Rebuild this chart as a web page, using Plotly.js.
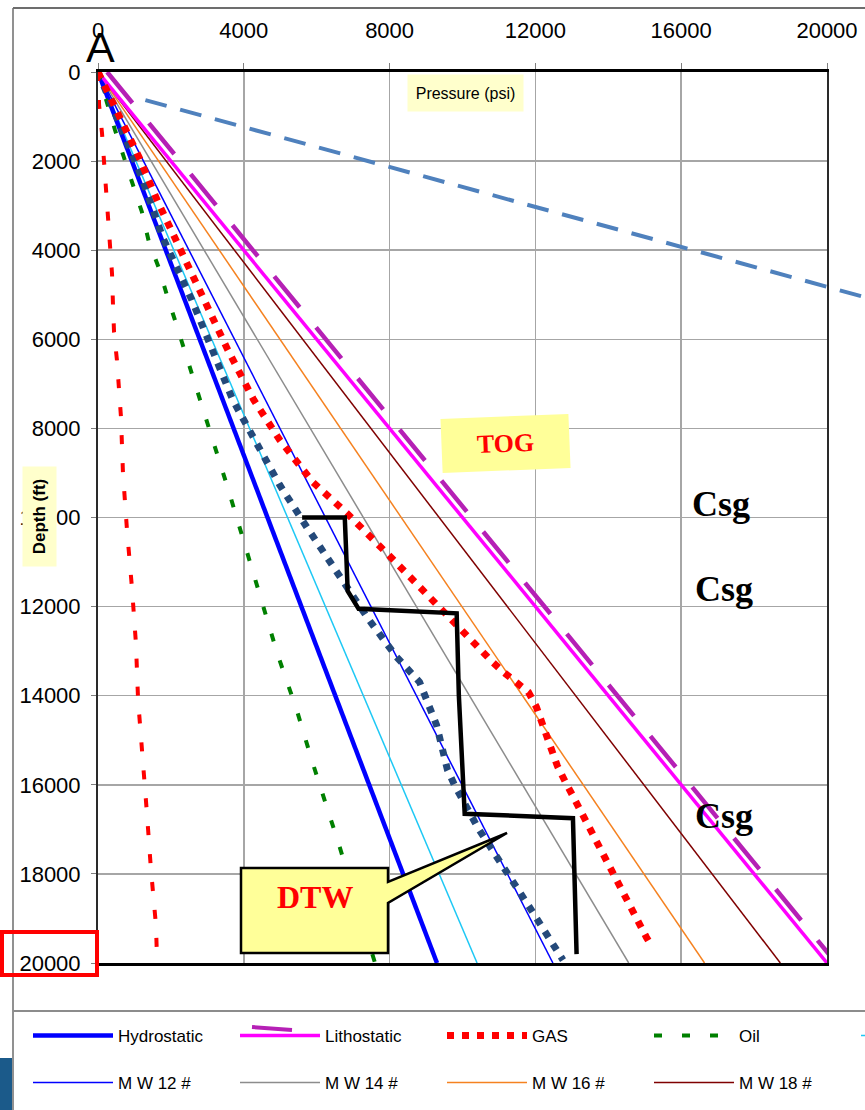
<!DOCTYPE html>
<html>
<head>
<meta charset="utf-8">
<script src="https://cdn.plot.ly/plotly-3.0.1.min.js"></script>
<style>
html,body{margin:0;padding:0;overflow:hidden;background:#ffffff;width:865px;height:1110px;}
#chart{width:1300px;height:1110px;}
</style>
</head>
<body>
<div id="chart"></div>
<script>
// ---------------- DATA ----------------
// Straight gradient lines: pressure (psi) at depth 0 and 20000 ft
const lineDepth = [0, 20000];
const hydrostaticP = [0, 9300];
const lithostaticP = [0, 20000];
const lithostaticOffsetP = [250, 20250];
const mw10P = [0, 10400];
const mw12P = [0, 12480];
const mw14P = [0, 14560];
const mw16P = [0, 16640];
const mw18P = [0, 18720];

// GAS (red dotted)
const gasP = [0, 740, 1123, 1644, 2164, 2932, 3562, 4274, 4986, 5890, 6822, 8055, 9315, 10192, 10822, 11123, 11507, 11808, 12027, 12164, 12301, 12466, 12603, 12822, 13014, 15041, 15100];
const gasD = [0, 1257, 1908, 2918, 3838, 5185, 6240, 7363, 8260, 9203, 9899, 10909, 11964, 12750, 13244, 13468, 13693, 13917, 14254, 14568, 14927, 15264, 15578, 15937, 16229, 19416, 19500];

// Oil (green dotted)
const oilP = [0, 466, 959, 1205, 1397, 1671, 1890, 2137, 3562, 4247, 4932, 5452, 5890, 6630, 7534, 7600];
const oilD = [0, 1302, 2536, 3142, 3816, 4400, 5006, 5634, 9338, 11223, 13086, 14321, 15511, 17396, 19865, 20000];

// Navy dotted curve
const navyP = [0, 1205, 1781, 2575, 3137, 3699, 4301, 4986, 5726, 6438, 7397, 8192, 8822, 9288, 9589, 9781, 10425, 11852, 12757];
const navyD = [0, 2379, 3726, 5118, 6240, 7363, 8260, 9270, 10213, 11066, 12256, 13131, 13693, 14658, 15668, 16004, 16970, 18765, 19933];

// Thin red dashed curve (far left)
const redThinP = [0, 30, 110, 165, 220, 250, 330, 385, 410, 440, 520, 575, 630, 685, 740, 795, 930, 1040, 1100, 1230, 1340, 1450, 1590, 1620];
const redThinD = [0, 740, 1370, 2000, 2650, 3280, 3930, 4530, 5190, 5840, 6470, 7090, 7740, 9000, 9650, 10280, 11560, 12820, 14100, 15380, 16610, 17870, 19150, 19930];

// Black step line
const stepP = [5600, 6770, 6800, 6850, 7150, 9840, 9900, 10060, 13030, 13130];
const stepD = [10000, 10000, 10600, 11650, 12050, 12150, 14000, 16650, 16750, 19800];

// Blue dashed line (runs off the right edge)
const blueDashP = [1300, 24500];
const blueDashD = [630, 5830];

// Axis ticks
const xTicks = [0, 4000, 8000, 12000, 16000, 20000];
const yTicks = [0, 2000, 4000, 6000, 8000, 10000, 12000, 14000, 16000, 18000, 20000];

// Legend labels
const legendRow1 = ['Hydrostatic', 'Lithostatic', 'GAS', 'Oil', 'M W 10 #'];
const legendRow2 = ['M W 12 #', 'M W 14 #', 'M W 16 #', 'M W 18 #'];

// Text labels
const csgLabel = 'Csg';
const togLabel = 'TOG';
const dtwLabel = 'DTW';

// ---------------- LAYOUT GEOMETRY (pixels) ----------------
const W = 1300, H = 1110;
const L = 98, T = 72, R2 = 1200, B = 963, RX = 827;
const pw = R2 - L, ph = B - T;
const px = x => (x - L) / pw;
const py = y => 1 - (y - T) / ph;
const FONT = 'Liberation Sans, Arial, sans-serif';
const SERIF = 'Liberation Serif, Times New Roman, serif';

function tr(name, x, y, color, width, dash, opts) {
  return Object.assign({
    type: 'scatter', mode: 'lines', name: name, x: x, y: y,
    line: {color: color, width: width, dash: dash || 'solid'},
    hoverinfo: 'skip', showlegend: false, xaxis: 'x', yaxis: 'y'
  }, opts || {});
}

const traces = [
  tr(legendRow1[4], mw10P, lineDepth, '#1ec8f5', 1.5, 'solid', {showlegend: true, legend: 'legend', legendrank: 5}),
  tr(legendRow2[0], mw12P, lineDepth, '#0000ff', 1.5, 'solid', {showlegend: true, legend: 'legend2', legendrank: 1}),
  tr(legendRow2[1], mw14P, lineDepth, '#8c8c8c', 1.5, 'solid', {showlegend: true, legend: 'legend2', legendrank: 2}),
  tr(legendRow2[2], mw16P, lineDepth, '#f58220', 1.5, 'solid', {showlegend: true, legend: 'legend2', legendrank: 3}),
  tr(legendRow2[3], mw18P, lineDepth, '#7f0000', 1.5, 'solid', {showlegend: true, legend: 'legend2', legendrank: 4}),
  tr(legendRow1[0], hydrostaticP, lineDepth, '#0000ff', 4.5, 'solid', {showlegend: true, legend: 'legend', legendrank: 1}),
  tr(legendRow1[1], lithostaticP, lineDepth, '#ff00ff', 3.5, 'solid', {showlegend: true, legend: 'legend', legendrank: 2}),
  tr('Lithostatic offset', lithostaticOffsetP, lineDepth, '#b520b5', 4.5, '40px,26px'),
  tr(legendRow1[3], oilP, oilD, '#008000', 4, '8px,20px', {showlegend: true, legend: 'legend', legendrank: 4}),
  tr('Red dashed', redThinP, redThinD, '#ff0000', 4, '9px,19px'),
  tr('Navy dotted', navyP, navyD, '#24497a', 7, '7px,8px'),
  tr(legendRow1[2], gasP, gasD, '#ff0000', 7, '7px,8px', {showlegend: true, legend: 'legend', legendrank: 3}),
  tr('Step', stepP, stepD, '#000000', 4.5, 'solid'),
  tr('Blue dashed', blueDashP, blueDashD, '#4f81bd', 4, '22px,14px', {xaxis: 'x2', yaxis: 'y2'})
];

const tickfont = {family: FONT, size: 22, color: '#000000'};

function ann(text, xp, yp, font, extra) {
  return Object.assign({
    text: text, x: px(xp), y: py(yp), xref: 'paper', yref: 'paper',
    xanchor: 'center', yanchor: 'middle', showarrow: false, font: font
  }, extra || {});
}

function pathPx(points) {
  return points.map((p, i) => (i ? 'L' : 'M') + px(p[0]) + ',' + py(p[1])).join(' ') + ' Z';
}

const legendCommon = {
  orientation: 'h', xref: 'paper', yref: 'paper', xanchor: 'left', yanchor: 'middle',
  entrywidth: 112, entrywidthmode: 'pixels', itemwidth: 80,
  font: {family: FONT, size: 17, color: '#000000'},
  bgcolor: 'rgba(0,0,0,0)', borderwidth: 0, traceorder: 'normal'
};

const layout = {
  width: W, height: H,
  margin: {l: L, t: T, r: W - R2, b: H - B, pad: 0, autoexpand: false},
  paper_bgcolor: '#ffffff', plot_bgcolor: 'rgba(0,0,0,0)',
  showlegend: true,
  xaxis: {
    domain: [0, (RX - L) / pw], range: [0, 20000], side: 'top', anchor: 'y',
    tickvals: xTicks, ticktext: xTicks.map(String),
    ticks: 'outside', ticklen: 6, tickcolor: '#7f7f7f', tickwidth: 1,
    tickfont: tickfont, ticklabelstandoff: 16,
    showgrid: true, gridcolor: '#a6a6a6', gridwidth: 1.5,
    showline: true, linecolor: '#000000', linewidth: 3, mirror: true,
    zeroline: false, fixedrange: true
  },
  yaxis: {
    domain: [0, 1], range: [20000, 0], anchor: 'x',
    tickvals: yTicks, ticktext: yTicks.map(String),
    ticks: 'outside', ticklen: 5, tickcolor: '#7f7f7f', tickwidth: 1,
    tickfont: tickfont, ticklabelstandoff: 6,
    showgrid: true, gridcolor: '#a6a6a6', gridwidth: 1.5,
    showline: true, linecolor: '#2a2a2a', linewidth: 2, mirror: true,
    zeroline: false, fixedrange: true
  },
  xaxis2: {domain: [0, 1], range: [0, 20000 * pw / (RX - L)], anchor: 'y2', visible: false, fixedrange: true},
  yaxis2: {domain: [0, 1], range: [20000, 0], anchor: 'x2', visible: false, fixedrange: true},
  legend: Object.assign({}, legendCommon, {x: px(28), y: py(1036)}),
  legend2: Object.assign({}, legendCommon, {x: px(28), y: py(1083)}),
  shapes: [
    // outer chart frame
    {type: 'line', xref: 'paper', yref: 'paper', x0: px(13), x1: px(1300), y0: py(8), y1: py(8), line: {color: '#6d6d6d', width: 2}},
    {type: 'line', xref: 'paper', yref: 'paper', x0: px(13), x1: px(13), y0: py(8), y1: py(1110), line: {color: '#6d6d6d', width: 1.5}},
    {type: 'line', xref: 'paper', yref: 'paper', x0: px(13), x1: px(1300), y0: py(1011), y1: py(1011), line: {color: '#8c8c8c', width: 2}},
    {type: 'rect', xref: 'paper', yref: 'paper', x0: px(0), x1: px(12), y0: py(1058), y1: py(1110), fillcolor: '#1b5a8a', line: {width: 0}},
    // purple dash accent of the Lithostatic legend key
    {type: 'line', xref: 'paper', yref: 'paper', x0: px(252), x1: px(292), y0: py(1027), y1: py(1030), line: {color: '#b520b5', width: 4}},
    // red highlight box
    {type: 'rect', xref: 'paper', yref: 'paper', x0: px(2), x1: px(97), y0: py(932), y1: py(975), line: {color: '#ff0000', width: 4}},
    // DTW callout
    {type: 'path', xref: 'paper', yref: 'paper',
     path: pathPx([[241, 868], [388, 868], [388, 882], [507, 833], [388, 903], [388, 953], [241, 953]]),
     fillcolor: '#ffff99', line: {color: '#000000', width: 2.5}}
  ],
  annotations: [
    ann('A', 100, 47, {family: FONT, size: 43, color: '#000000'}),
    ann('Pressure (psi)', 465, 93, {family: FONT, size: 16, color: '#000000'}, {bgcolor: '#ffffcc', width: 113, height: 34}),
    ann('<b>Depth (ft)</b>', 39.5, 516.5, {family: FONT, size: 17, color: '#000000'}, {bgcolor: '#ffffcc', width: 97, height: 31, textangle: -90}),
    ann('<b>' + togLabel + '</b>', 505, 443, {family: SERIF, size: 26, color: '#ff0000'}, {bgcolor: '#ffff99', width: 125, height: 51, textangle: -2.3}),
    ann('<b>' + csgLabel + '</b>', 721, 504, {family: SERIF, size: 36, color: '#000000'}),
    ann('<b>' + csgLabel + '</b>', 724, 589, {family: SERIF, size: 36, color: '#000000'}),
    ann('<b>' + csgLabel + '</b>', 724, 816, {family: SERIF, size: 36, color: '#000000'}),
    ann('<b>' + dtwLabel + '</b>', 314.5, 897, {family: SERIF, size: 32, color: '#ff0000'})
  ]
};

Plotly.newPlot('chart', traces, layout, {staticPlot: true, displayModeBar: false});
</script>
</body>
</html>
